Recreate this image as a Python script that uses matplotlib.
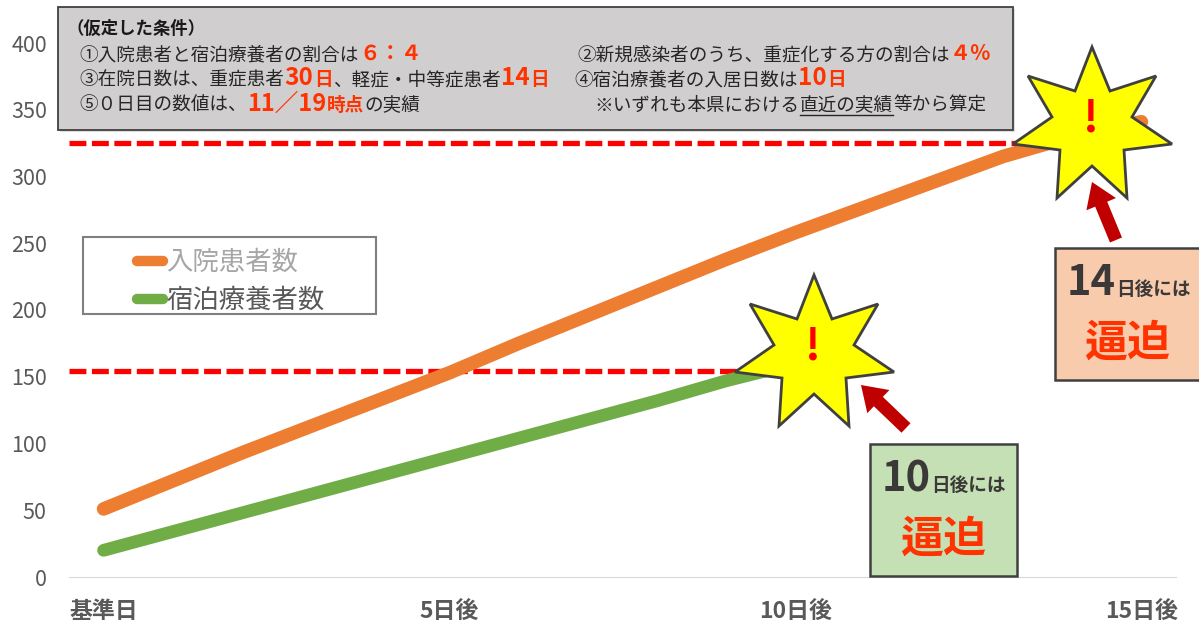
import matplotlib
matplotlib.use("Agg")
import matplotlib.pyplot as plt
from matplotlib.patches import Rectangle, Polygon, FancyArrow

plt.rcParams['font.family'] = ['Noto Sans CJK JP', 'DejaVu Sans']

# data
days = list(range(16))
inpatients = [51, 72, 93, 113, 133, 153, 175, 196, 217, 238, 258, 277, 296, 315, 330, 341]
green_days = list(range(11))
hotel = [20, 34, 48, 62, 76, 90, 104, 118, 132, 147, 160]
limit_inpatients = 325
limit_hotel = 154
x_ticks = [0, 5, 10, 15]
x_labels = ['基準日', '5日後', '10日後', '15日後']
y_ticks = [0, 50, 100, 150, 200, 250, 300, 350, 400]
series_names = ['入院患者数', '宿泊療養者数']

W, H = 1199, 624
ORANGE = '#ED7D31'
GREEN = '#70AD47'
RED = '#FF3300'
DARK = '#404040'

fig = plt.figure(figsize=(W / 100, H / 100), dpi=100)
ax = fig.add_axes([69 / W, (H - 577) / H, (1176 - 69) / W, 577 / H])

# chart
ax.plot(days, inpatients, color=ORANGE, lw=9.8, solid_capstyle='round', zorder=3)
ax.plot(green_days, hotel, color=GREEN, lw=9.2, solid_capstyle='round', zorder=3)
ax.plot([-0.5, 13.4], [limit_inpatients] * 2, color='#FF0000', lw=3.8, dashes=(3.2, 1.05), zorder=4)
ax.plot([-0.5, 9.2], [limit_hotel] * 2, color='#FF0000', lw=3.8, dashes=(3.2, 1.05), zorder=2)

ax.set_xlim(-0.5, 15.5)
ax.set_ylim(0, 577 / 1.335)
ax.set_xticks(x_ticks)
ax.set_xticklabels(x_labels, fontsize=16.5, fontweight='bold', color='#595959')
ax.set_yticks(y_ticks)
ax.tick_params(axis='y', length=0, labelsize=15.5, labelcolor='#595959', pad=16)
ax.tick_params(axis='x', length=0, pad=16.5)
for side in ['top', 'right', 'left']:
    ax.spines[side].set_visible(False)
ax.spines['bottom'].set_color('#D9D9D9')

# legend, frame drawn separately further down
leg = ax.legend(ax.get_lines()[:2], series_names, frameon=False, loc='upper left',
                bbox_to_anchor=(68 / 1107, (577 - 249) / 577), fontsize=19, labelspacing=0.42,
                handlelength=1.0, handletextpad=0.12, borderpad=0, borderaxespad=0,
                labelcolor=['#A6A6A6', '#595959'])
for h in leg.get_lines():
    h.set_linewidth(7.5)

# overlay in pixel coordinates for the call-outs
ov = fig.add_axes([0, 0, 1, 1], zorder=10)
ov.set_xlim(0, W)
ov.set_ylim(H, 0)
ov.axis('off')
ov.patch.set_visible(False)

ov.add_patch(Rectangle((83, 237), 293, 77, fc='none', ec='#7F7F7F', lw=1.5))

# conditions box
ov.add_patch(Rectangle((60, 9), 955, 123, fc='#BFBFBF', ec='none', alpha=0.5))
ov.add_patch(Rectangle((58, 7), 955, 123, fc='#D0CECE', ec=DARK, lw=1.3))


def segments(x, y, parts):
    # place text pieces one after the other, parts = (text, size, colour, bold, underline)
    rend = fig.canvas.get_renderer()
    for text, size, color, bold, under in parts:
        t = ov.text(x, y, text, fontsize=size, color=color, va='baseline', ha='left',
                    fontweight='bold' if bold else 'normal')
        box = t.get_window_extent(rend)
        x2 = x + box.width
        if under:
            ov.plot([x, x2], [y + 4, y + 4], color='#262626', lw=1)
        x = x2 + 0.5


BLK = '#262626'
S = 13.4
B = 17.5
segments(67, 34, [('（仮定した条件）', 12.5, '#1A1A1A', True, False)])
segments(79, 60, [('①入院患者と宿泊療養者の割合は', S, BLK, False, False),
                  ('６：４', 15, RED, True, False)])
segments(577, 60, [('②新規感染者のうち、重症化する方の割合は', S, BLK, False, False),
                   ('４％', 15, RED, True, False)])
segments(79, 85, [('③在院日数は、重症患者', S, BLK, False, False), ('30', B, RED, True, False),
                  ('日', S, RED, True, False), ('、軽症・中等症患者', S, BLK, False, False),
                  ('14', B, RED, True, False), ('日', S, RED, True, False)])
segments(574, 85, [('④宿泊療養者の入居日数は', S, BLK, False, False), ('10', B, RED, True, False),
                   ('日', S, RED, True, False)])
segments(79, 111, [('⑤０日目の数値は、', S, BLK, False, False), ('11／19', 17, RED, True, False),
                   ('時点', S, RED, True, False), ('の実績', S, BLK, False, False)])
segments(594, 111, [('※いずれも本県における', S, BLK, False, False), ('直近の実績', S, BLK, False, True),
                    ('等から算定', S, BLK, False, False)])

# star outline relative to its top-centre point
star_x = [0, 18, 64, 40, 80, 32, 35, 0, -35, -32, -79, -40, -64, -17]
star_y = [0, 44, 29, 70, 97, 103, 151, 119, 151, 103, 97, 70, 29, 44]


def star(cx, top):
    pts = [(cx + a, top + b) for a, b in zip(star_x, star_y)]
    ov.add_patch(Polygon(pts, closed=True, fc='#FFFF00', ec=DARK, lw=2, joinstyle='miter'))
    ov.text(cx - 1, top + 71, '!', fontsize=31, fontweight='bold', color='#FF0000',
            ha='center', va='center')


star(814, 275)
star(1092, 47)


def arrow(x0, y0, x1, y1):
    ov.add_patch(FancyArrow(x0, y0, x1 - x0, y1 - y0, width=13, head_width=32, head_length=24,
                            length_includes_head=True, fc='#C00000', ec='none'))


arrow(906, 428, 861, 385)
arrow(1116, 240, 1092, 182)


def note(x, y, w, h, color, num, cx):
    ov.add_patch(Rectangle((x, y), w, h, fc=color, ec=DARK, lw=1.8))
    segments(x + 12, y + 47, [(num, 30, '#3B3838', True, False), ('日後には', 13.4, '#3B3838', True, False)])
    ov.text(cx, y + 95, '逼迫', fontsize=31, fontweight='bold', color=RED, ha='center', va='center')


note(870, 444, 147, 132, '#C5E0B4', '10', 943)
note(1055, 248, 150, 132, '#F8CBAD', '14', 1127)

fig.savefig('out.png', dpi=100)
